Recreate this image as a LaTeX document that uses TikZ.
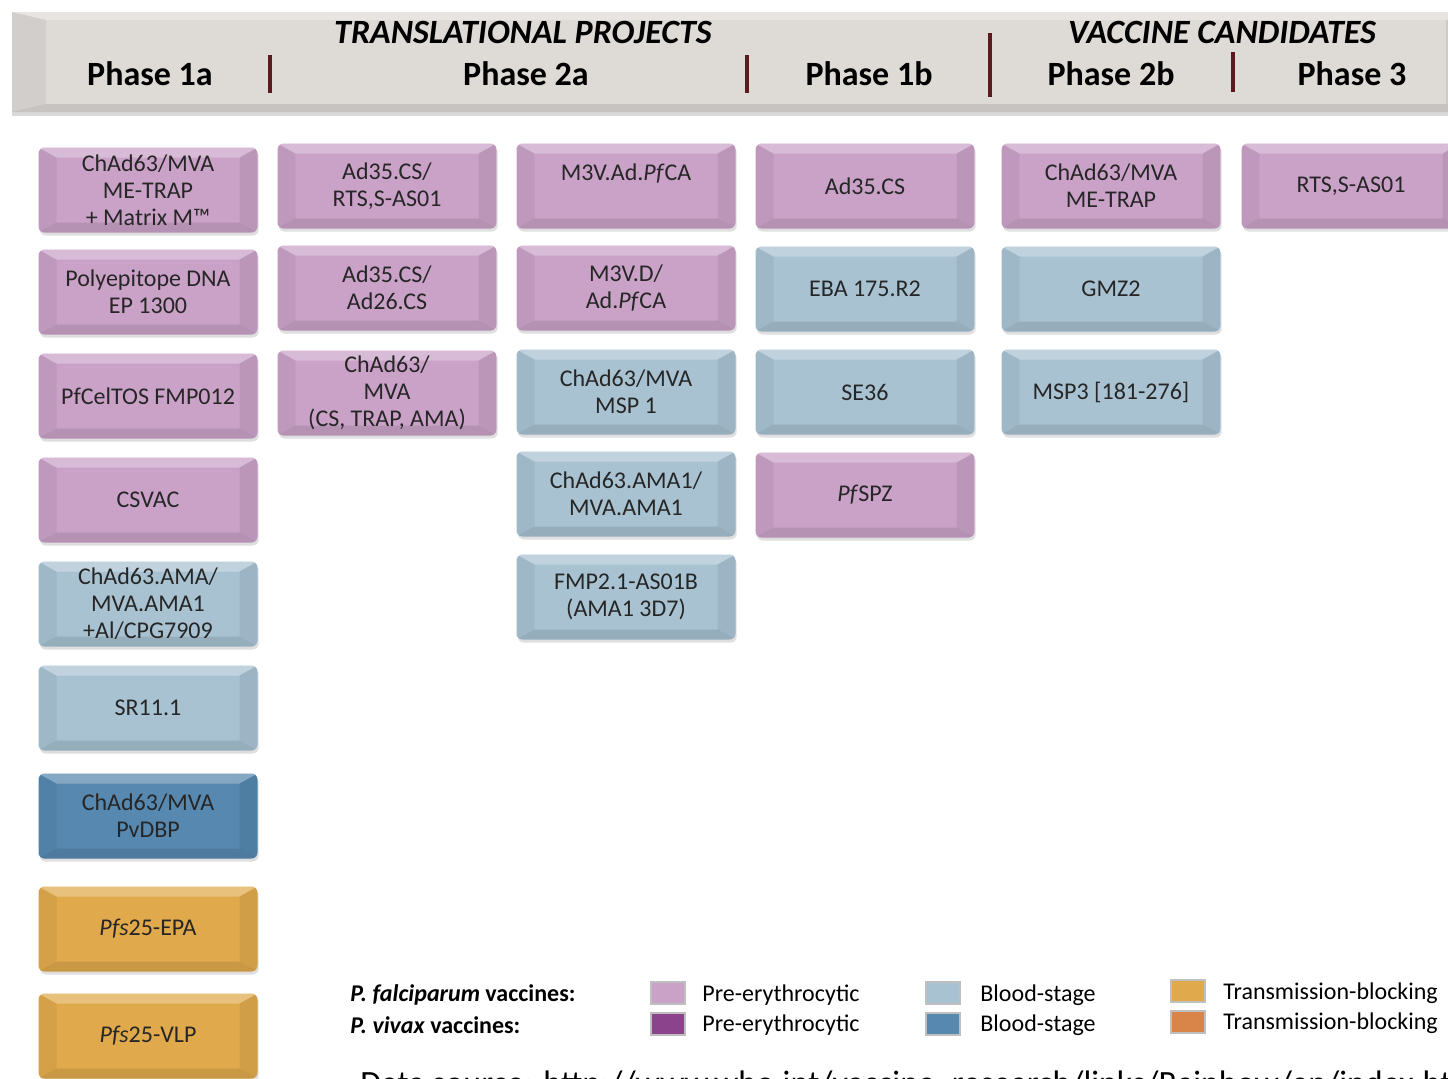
\documentclass[tikz,border=0pt]{standalone}
\usepackage{fontspec}
\setmainfont{Carlito}
\usetikzlibrary{shadows}

\definecolor{pfpre}{RGB}{202,162,200}
\definecolor{pvpre}{RGB}{139,68,139}
\definecolor{pfblood}{RGB}{168,194,210}
\definecolor{pvblood}{RGB}{86,136,176}
\definecolor{pftrans}{RGB}{224,170,76}
\definecolor{pvtrans}{RGB}{217,132,72}
\definecolor{bannergray}{RGB}{222,218,214}
\definecolor{divider}{RGB}{92,26,30}

\tikzset{
    bevel/.style 2 args={path picture={
        % top face
        \fill[white, opacity=0.28, sharp corners] (path picture bounding box.north west) -- (path picture bounding box.north east)
            -- ([xshift=-#1, yshift=-#2]path picture bounding box.north east) -- ([xshift=#1, yshift=-#2]path picture bounding box.north west) -- cycle;
        % side faces
        \fill[black, opacity=0.05, sharp corners] (path picture bounding box.north west) -- ([xshift=#1, yshift=-#2]path picture bounding box.north west)
            -- ([xshift=#1, yshift=#2]path picture bounding box.south west) -- (path picture bounding box.south west) -- cycle;
        \fill[black, opacity=0.07, sharp corners] (path picture bounding box.north east) -- ([xshift=-#1, yshift=-#2]path picture bounding box.north east)
            -- ([xshift=-#1, yshift=#2]path picture bounding box.south east) -- (path picture bounding box.south east) -- cycle;
        % bottom face
        \fill[black, opacity=0.10, sharp corners] (path picture bounding box.south west) -- (path picture bounding box.south east)
            -- ([xshift=-#1, yshift=#2]path picture bounding box.south east) -- ([xshift=#1, yshift=#2]path picture bounding box.south west) -- cycle;
    }},
    vaccine/.style={rectangle, rounded corners=3pt, minimum width=109.5pt, minimum height=42.5pt, inner sep=0pt, align=center,
        fill=#1, text=black!85, font=\fontsize{12}{13.5}\selectfont, bevel={9pt}{5pt},
        drop shadow={opacity=0.25, shadow xshift=0.6pt, shadow yshift=-1.5pt}},
    phase/.style={font=\fontsize{17}{20}\selectfont\bfseries},
    stage/.style={font=\fontsize{17}{20}\selectfont\bfseries\itshape},
    sep/.style={draw=divider, line width=2pt},
    swatch/.style={rectangle, minimum width=17pt, minimum height=11pt, inner sep=0pt, fill=#1, draw=black!25, line width=0.6pt},
    key/.style={anchor=west, inner sep=0pt, font=\fontsize{12}{14}\selectfont}
}

\begin{document}
\begin{tikzpicture}[x=0.5pt, y=-0.5pt]
    \useasboundingbox (0,0) rectangle (1448,1078);
    \clip (0,0) rectangle (1448,1078);

    % Kopfzeile
    \node (banner) [rectangle, minimum width=734pt, minimum height=50pt, inner sep=0pt, fill=bannergray, bevel={17pt}{4pt},
        drop shadow={opacity=0.3, shadow xshift=0pt, shadow yshift=-2pt}] at (746,62) {};
    \node (translational) [stage] at (523,32) {TRANSLATIONAL PROJECTS};
    \node (candidates) [stage] at (1222,32) {VACCINE CANDIDATES};
    \node (ph1a) [phase] at (150,74) {Phase 1a};
    \node (ph2a) [phase] at (526,74) {Phase 2a};
    \node (ph1b) [phase] at (869,74) {Phase 1b};
    \node (ph2b) [phase] at (1111,74) {Phase 2b};
    \node (ph3) [phase] at (1352,74) {Phase 3};
    \draw [sep] (270,55) -- (270,93);
    \draw [sep] (747,55) -- (747,93);
    \draw [sep] (990,33) -- (990,97);
    \draw [sep] (1233,52) -- (1233,92);

    % Phase 1a
    \node (metrapm) [vaccine=pfpre] at (148,190) {ChAd63/MVA\\ME-TRAP\\+ Matrix M™};
    \node (polyepi) [vaccine=pfpre] at (148,292) {Polyepitope DNA\\EP 1300};
    \node (celtos) [vaccine=pfpre] at (148,396) {PfCelTOS FMP012};
    \node (csvac) [vaccine=pfpre] at (148,500) {CSVAC};
    \node (amacpg) [vaccine=pfblood] at (148,604) {ChAd63.AMA/\\MVA.AMA1\\+Al/CPG7909};
    \node (sr) [vaccine=pfblood] at (148,708) {SR11.1};
    \node (pvdbp) [vaccine=pvblood] at (148,816) {ChAd63/MVA\\PvDBP};
    \node (pfsepa) [vaccine=pftrans] at (148,929) {\textit{Pfs}25-EPA};
    \node (pfsvlp) [vaccine=pftrans] at (148,1036) {\textit{Pfs}25-VLP};

    % Phase 2a
    \node (adrts) [vaccine=pfpre] at (387,186) {Ad35.CS/\\RTS,S-AS01};
    \node (adad) [vaccine=pfpre] at (387,288) {Ad35.CS/\\Ad26.CS};
    \node (cstrap) [vaccine=pfpre] at (387,393) {ChAd63/\\MVA\\(CS, TRAP, AMA)};
    \node (mvad) [vaccine=pfpre] at (626,186) {M3V.Ad.\textit{Pf}CA\\~};
    \node (mvdad) [vaccine=pfpre] at (626,288) {M3V.D/\\Ad.\textit{Pf}CA};
    \node (msp) [vaccine=pfblood] at (626,392) {ChAd63/MVA\\MSP 1};
    \node (amaone) [vaccine=pfblood] at (626,494) {ChAd63.AMA1/\\MVA.AMA1};
    \node (fmp) [vaccine=pfblood] at (626,597) {FMP2.1-AS01B\\(AMA1 3D7)};

    % Phase 1b
    \node (adcs) [vaccine=pfpre] at (865,186) {Ad35.CS};
    \node (eba) [vaccine=pfblood] at (865,289) {EBA 175.R2};
    \node (se) [vaccine=pfblood] at (865,392) {SE36};
    \node (pfspz) [vaccine=pfpre] at (865,495) {\textit{Pf}SPZ};

    % Phase 2b
    \node (metrap) [vaccine=pfpre] at (1111,186) {ChAd63/MVA\\ME-TRAP};
    \node (gmz) [vaccine=pfblood] at (1111,289) {GMZ2};
    \node (mspthree) [vaccine=pfblood] at (1111,392) {MSP3 [181-276]};

    % Phase 3
    \node (rtss) [vaccine=pfpre] at (1351,186) {RTS,S-AS01};

    % Legende
    \node (falc) [key] at (350,995) {\textbf{\textit{P. falciparum} vaccines:}};
    \node (viv) [key] at (350,1025) {\textbf{\textit{P. vivax} vaccines:}};
    \node (sw1) [swatch=pfpre] at (668,993) {};
    \node (sw2) [swatch=pvpre] at (668,1024) {};
    \node (sw3) [swatch=pfblood] at (943,993) {};
    \node (sw4) [swatch=pvblood] at (943,1024) {};
    \node (sw5) [swatch=pftrans] at (1188,991) {};
    \node (sw6) [swatch=pvtrans] at (1188,1022) {};
    \node [key] at (702,995) {Pre-erythrocytic};
    \node [key] at (702,1025) {Pre-erythrocytic};
    \node [key] at (980,995) {Blood-stage};
    \node [key] at (980,1025) {Blood-stage};
    \node [key] at (1223,993) {Transmission-blocking};
    \node [key] at (1223,1023) {Transmission-blocking};

    % Quelle (unten abgeschnitten)
    \node (source) [anchor=base west, inner sep=0pt, font=\fontsize{17}{20}\selectfont] at (360,1094)
        {Data source: http://www.who.int/vaccine\_research/links/Rainbow/en/index.html};
\end{tikzpicture}
\end{document}
